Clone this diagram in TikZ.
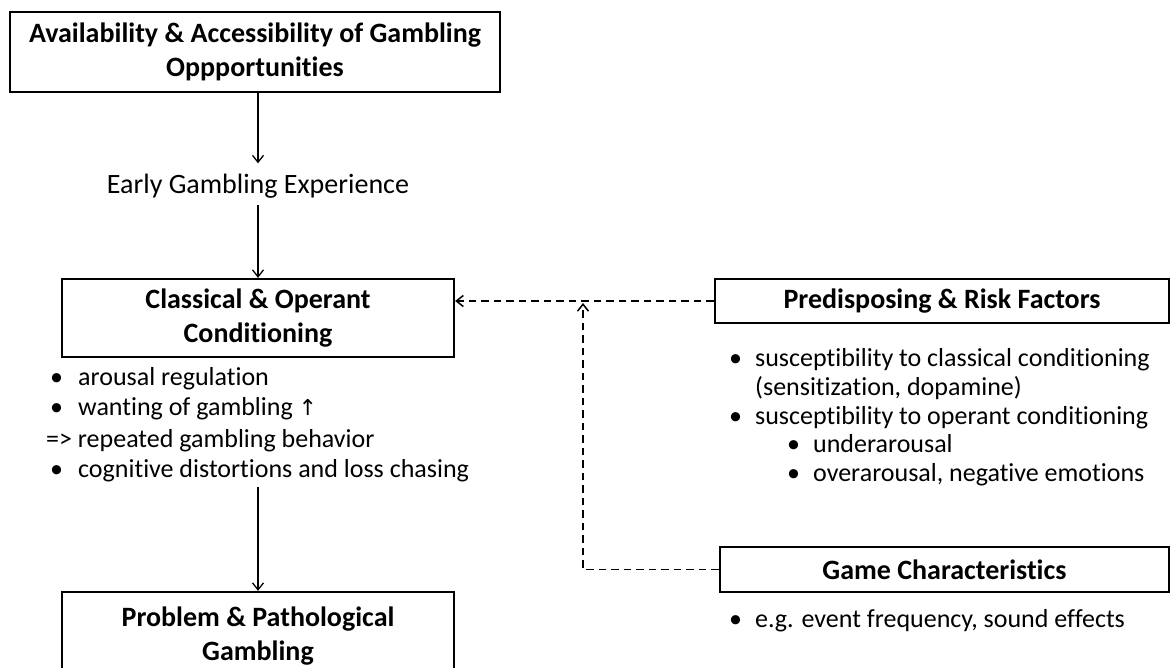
\documentclass[tikz,border=0pt]{standalone}
\usepackage{fontspec}
\setmainfont{Carlito}[Ligatures=NoCommon]
\newfontfamily\symfont{DejaVu Sans}
\usetikzlibrary{arrows.meta}
\begin{document}
\begin{tikzpicture}[x=1pt,y=-1pt,
  box/.style={draw, line width=2.2pt, inner sep=0pt, align=center,
    font=\fontsize{28}{34}\selectfont\bfseries},
  plain/.style={inner sep=0pt, font=\fontsize{26}{30}\selectfont, anchor=base west},
  arr/.style={-{Straight Barb[length=7pt,width=11pt]}, line width=1.3pt},
  darr/.style={arr, line width=1.5pt, dash pattern=on 7.5pt off 5pt}]
\useasboundingbox (0,0) rectangle (1171,668);
\clip (0,0) rectangle (1171,668);

% boxes
\node[box, minimum width=490pt, minimum height=80pt] (avail) at (255,52)
  {Availability \& Accessibility of Gambling\\Oppportunities};
\node[inner sep=0pt, font=\fontsize{28}{34}\selectfont, anchor=base] (early) at (258,194)
  {Early Gambling Experience};
\node[box, minimum width=392pt, minimum height=78pt] (cond) at (258,318)
  {Classical \& Operant\\Conditioning};
\node[box, minimum width=392pt, minimum height=88pt] (prob) at (258,636)
  {Problem \& Pathological\\Gambling};
\node[box, minimum width=454pt, minimum height=44pt] (pred) at (942,301)
  {Predisposing \& Risk Factors};
\node[box, minimum width=449pt, minimum height=45pt] (game) at (944.5,569.5)
  {Game Characteristics};

% left list
\node[plain] (l1) at (50,386) {\makebox[28pt][l]{•}arousal regulation};
\node[plain] (l2) at (50,416) {\makebox[28pt][l]{•}wanting of gambling {\symfont\fontsize{22}{26}\selectfont ↑}};
\node[plain] (l3) at (46,448) {=> repeated gambling behavior};
\node[plain] (l4) at (50,478) {\makebox[28pt][l]{•}cognitive distortions and loss chasing};

% right list
\node[plain] (r1) at (729,367) {\makebox[26pt][l]{•}susceptibility to classical conditioning};
\node[plain] (r2) at (755,395.7) {(sensitization, dopamine)};
\node[plain] (r3) at (729,424.4) {\makebox[26pt][l]{•}susceptibility to operant conditioning};
\node[plain] (r4) at (787,453) {\makebox[26pt][l]{•}underarousal};
\node[plain] (r5) at (787,481.8) {\makebox[26pt][l]{•}overarousal, negative emotions};
\node[plain] (g1) at (729,627) {\makebox[26pt][l]{•}e.g. event frequency, sound effects};

% connectors
\coordinate (bend) at (583,0);
\draw[arr] (avail.south -| early.north) -- ([yshift=11pt]early.north);
\draw[arr] ([yshift=-6pt]early.south) -- (cond.north);
\draw[arr] ([yshift=-4pt]l4.south -| cond.south) -- (prob.north);
\draw[darr] (pred.west) -- (pred.west -| cond.east);
\draw[darr] (game.west) -| ([yshift=-2pt]pred.west -| bend);
\end{tikzpicture}
\end{document}
